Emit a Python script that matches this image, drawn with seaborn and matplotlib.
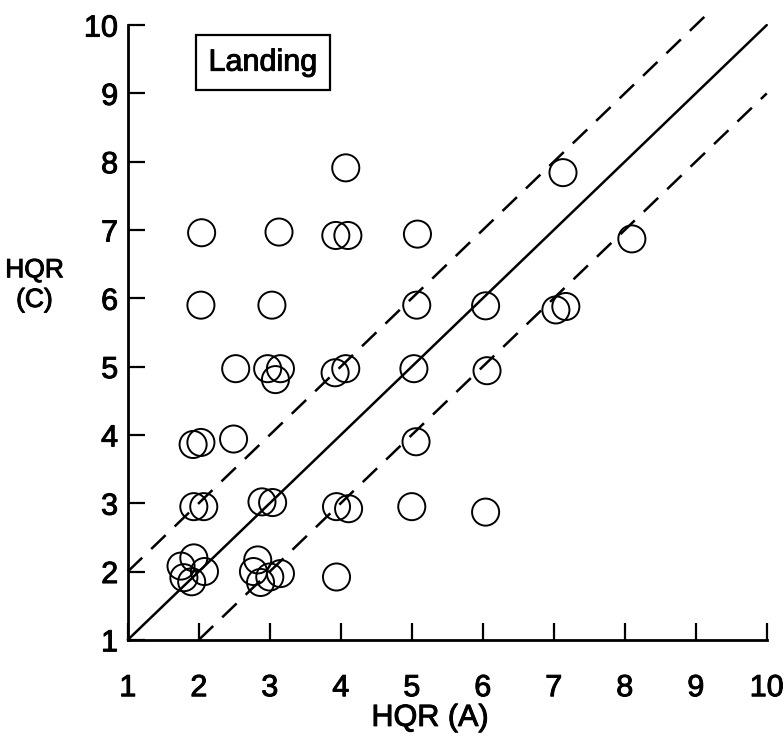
import matplotlib
matplotlib.use("Agg")
import matplotlib.pyplot as plt
import matplotlib.patheffects as pe
import seaborn as sns
import pandas as pd

# Pilot ratings: configuration A vs configuration C (landing task)
hqr_a = [
    4.07, 7.13,
    2.04, 3.13, 3.93, 4.10, 5.08, 8.10,
    2.03, 3.03, 5.07, 6.04, 7.03, 7.17,
    2.52, 2.97, 3.15, 3.08, 3.92, 4.07, 5.03, 6.06,
    1.92, 2.03, 2.49, 5.06,
    1.93, 2.07, 2.89, 3.04, 3.94, 4.11, 5.00, 6.04,
    1.75, 1.93, 2.08, 1.79, 1.90,
    2.83, 2.77, 3.15, 2.87, 3.00,
    3.94,
]
hqr_c = [
    7.91, 7.84,
    6.96, 6.97, 6.92, 6.92, 6.94, 6.87,
    5.90, 5.90, 5.90, 5.89, 5.83, 5.88,
    4.97, 4.97, 4.97, 4.81, 4.91, 4.97, 4.97, 4.94,
    3.86, 3.89, 3.94, 3.90,
    2.95, 2.95, 3.02, 3.01, 2.95, 2.92, 2.95, 2.87,
    2.08, 2.20, 2.00, 1.91, 1.85,
    2.17, 2.00, 1.97, 1.84, 1.92,
    1.92,
]

# Equal-rating line and +/- 1 rating bands
equal_x = [1, 10]
equal_y = [1, 10]
upper_x = [1, 9.15]
upper_y = [2, 10.15]
lower_x = [2, 10]
lower_y = [1, 9]

ticks = list(range(1, 11))

sns.set_theme(style="ticks")
plt.rcParams["font.family"] = ["Liberation Sans", "DejaVu Sans"]

thick = [pe.withStroke(linewidth=0.7, foreground="black")]

fig = plt.figure(figsize=(7.84, 7.38), dpi=100)
ax = fig.add_axes([0.163, 0.133, 0.815, 0.833])

df = pd.DataFrame({"A": hqr_a, "C": hqr_c})
sns.scatterplot(data=df, x="A", y="C", ax=ax, s=380, marker="o",
                facecolor="none", edgecolor="black", linewidth=1.4,
                clip_on=False, zorder=3)

ax.plot(equal_x, equal_y, color="black", lw=1.8, clip_on=False, zorder=2)
ax.plot(upper_x, upper_y, color="black", lw=1.8, dashes=(8, 5),
        clip_on=False, zorder=2)
ax.plot(lower_x, lower_y, color="black", lw=1.8, dashes=(8, 5),
        clip_on=False, zorder=2)

ax.set_xlim(1, 10)
ax.set_ylim(1, 10)
ax.set_xticks(ticks)
ax.set_yticks(ticks)
ax.set_xticklabels([str(t) for t in ticks])
ax.set_yticklabels([str(t) for t in ticks])

for side in ("top", "right"):
    ax.spines[side].set_visible(False)
for side in ("left", "bottom"):
    ax.spines[side].set_linewidth(2.0)
    ax.spines[side].set_color("black")

ax.tick_params(axis="both", direction="in", length=12, width=1.6,
               colors="black", labelsize=22)
ax.tick_params(axis="x", pad=24)
ax.tick_params(axis="y", pad=7)
for lab in ax.get_xticklabels() + ax.get_yticklabels():
    lab.set_path_effects(thick)

ax.set_xlabel("HQR (A)", fontsize=22, color="black", va="center",
              path_effects=thick)
ax.xaxis.set_label_coords(0.473, -0.127)
ax.set_ylabel("HQR\n(C)", fontsize=19, color="black", rotation=0,
              ha="center", va="center", linespacing=1.3,
              path_effects=thick)
ax.yaxis.set_label_coords(-0.146, 0.577)

ax.text(2.9, 9.45, "Landing", fontsize=22, ha="center", va="center",
        color="black", path_effects=thick,
        bbox=dict(boxstyle="square,pad=0.42", facecolor="white",
                  edgecolor="black", linewidth=1.6))

fig.savefig("out.png", dpi=100, facecolor="white")
